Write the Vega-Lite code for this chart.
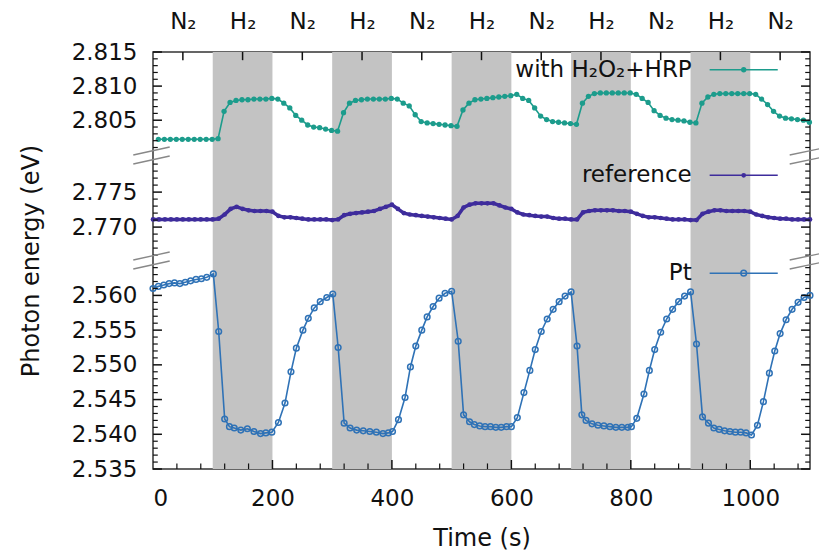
{
  "$schema": "https://vega.github.io/schema/vega-lite/v6.json",
  "width": 657,
  "height": 417,
  "autosize": "none",
  "padding": {"left": 153, "top": 52, "right": 9, "bottom": 82},
  "background": "white",
  "config": {
    "view": {"stroke": "#333", "strokeWidth": 1.5},
    "font": "DejaVu Sans",
    "axis": {"labelFont": "DejaVu Sans", "titleFont": "DejaVu Sans", "labelColor": "#111", "titleColor": "#111", "titleFontWeight": "normal", "grid": false, "domain": false, "zindex": 1}
  },
  "datasets": {
    "bands": [
      {"start": 100, "end": 200}, {"start": 300, "end": 400}, {"start": 500, "end": 600}, {"start": 700, "end": 800}, {"start": 900, "end": 1000}
    ],
    "ymajor": [{"v": 2.535}, {"v": 2.54}, {"v": 2.545}, {"v": 2.55}, {"v": 2.555}, {"v": 2.56}, {"v": 2.77}, {"v": 2.775}, {"v": 2.805}, {"v": 2.81}, {"v": 2.815}],
    "yminor": [
      {"v": 2.536}, {"v": 2.537}, {"v": 2.538}, {"v": 2.539}, {"v": 2.541}, {"v": 2.542}, {"v": 2.543}, {"v": 2.544}, {"v": 2.546}, {"v": 2.547}, {"v": 2.548}, {"v": 2.549},
      {"v": 2.551}, {"v": 2.552}, {"v": 2.553}, {"v": 2.554}, {"v": 2.556}, {"v": 2.557}, {"v": 2.558}, {"v": 2.559}, {"v": 2.561}, {"v": 2.562}, {"v": 2.563}, {"v": 2.564},
      {"v": 2.766}, {"v": 2.767}, {"v": 2.768}, {"v": 2.769}, {"v": 2.771}, {"v": 2.772}, {"v": 2.773}, {"v": 2.774}, {"v": 2.776}, {"v": 2.777}, {"v": 2.778}, {"v": 2.779},
      {"v": 2.801}, {"v": 2.802}, {"v": 2.803}, {"v": 2.804}, {"v": 2.806}, {"v": 2.807}, {"v": 2.808}, {"v": 2.809}, {"v": 2.811}, {"v": 2.812}, {"v": 2.813}, {"v": 2.814}
    ],
    "xmajor": [{"v": 200}, {"v": 400}, {"v": 600}, {"v": 800}, {"v": 1000}],
    "xminor": [
      {"v": 40}, {"v": 80}, {"v": 120}, {"v": 160}, {"v": 240}, {"v": 280}, {"v": 320}, {"v": 360}, {"v": 440}, {"v": 480}, {"v": 520}, {"v": 560},
      {"v": 640}, {"v": 680}, {"v": 720}, {"v": 760}, {"v": 840}, {"v": 880}, {"v": 920}, {"v": 960}, {"v": 1040}, {"v": 1080}
    ],
    "xtop": [{"v": 50}, {"v": 150}, {"v": 250}, {"v": 350}, {"v": 450}, {"v": 550}, {"v": 650}, {"v": 750}, {"v": 850}, {"v": 950}, {"v": 1050}],
    "hrp": [
      {"t": 9, "E": 2.8022}, {"t": 19, "E": 2.8022}, {"t": 29, "E": 2.8022}, {"t": 39, "E": 2.8022}, {"t": 49, "E": 2.8022}, {"t": 59, "E": 2.8022}, {"t": 69, "E": 2.8022}, {"t": 79, "E": 2.8022}, {"t": 89, "E": 2.8022}, {"t": 99, "E": 2.8022}, {"t": 109, "E": 2.8023},
      {"t": 119, "E": 2.8063}, {"t": 129, "E": 2.8076}, {"t": 139, "E": 2.8079}, {"t": 149, "E": 2.808}, {"t": 159, "E": 2.808}, {"t": 169, "E": 2.8081}, {"t": 179, "E": 2.8081}, {"t": 189, "E": 2.8081}, {"t": 199, "E": 2.8082}, {"t": 209, "E": 2.8081},
      {"t": 219, "E": 2.8075}, {"t": 229, "E": 2.8068}, {"t": 239, "E": 2.8057}, {"t": 249, "E": 2.805}, {"t": 259, "E": 2.8043}, {"t": 269, "E": 2.804}, {"t": 279, "E": 2.8039}, {"t": 289, "E": 2.8037}, {"t": 299, "E": 2.8035}, {"t": 309, "E": 2.8034},
      {"t": 319, "E": 2.8061}, {"t": 329, "E": 2.8075}, {"t": 339, "E": 2.8079}, {"t": 349, "E": 2.808}, {"t": 359, "E": 2.8081}, {"t": 369, "E": 2.8081}, {"t": 379, "E": 2.8081}, {"t": 389, "E": 2.8081}, {"t": 399, "E": 2.8082}, {"t": 409, "E": 2.8081},
      {"t": 419, "E": 2.8075}, {"t": 429, "E": 2.8071}, {"t": 439, "E": 2.8058}, {"t": 449, "E": 2.8048}, {"t": 459, "E": 2.8046}, {"t": 469, "E": 2.8045}, {"t": 479, "E": 2.8044}, {"t": 489, "E": 2.8043}, {"t": 499, "E": 2.8042}, {"t": 509, "E": 2.8041},
      {"t": 519, "E": 2.8065}, {"t": 529, "E": 2.8075}, {"t": 539, "E": 2.808}, {"t": 549, "E": 2.8081}, {"t": 559, "E": 2.8082}, {"t": 569, "E": 2.8083}, {"t": 579, "E": 2.8084}, {"t": 589, "E": 2.8085}, {"t": 599, "E": 2.8086}, {"t": 609, "E": 2.8088},
      {"t": 619, "E": 2.8082}, {"t": 629, "E": 2.8079}, {"t": 639, "E": 2.8068}, {"t": 649, "E": 2.8056}, {"t": 659, "E": 2.8051}, {"t": 669, "E": 2.8048}, {"t": 679, "E": 2.8047}, {"t": 689, "E": 2.8046}, {"t": 699, "E": 2.8045}, {"t": 709, "E": 2.8044},
      {"t": 719, "E": 2.8075}, {"t": 729, "E": 2.8085}, {"t": 739, "E": 2.8089}, {"t": 749, "E": 2.809}, {"t": 759, "E": 2.809}, {"t": 769, "E": 2.809}, {"t": 779, "E": 2.809}, {"t": 789, "E": 2.809}, {"t": 799, "E": 2.809}, {"t": 809, "E": 2.8088},
      {"t": 819, "E": 2.8082}, {"t": 829, "E": 2.8076}, {"t": 839, "E": 2.8064}, {"t": 849, "E": 2.8057}, {"t": 859, "E": 2.8053}, {"t": 869, "E": 2.8051}, {"t": 879, "E": 2.805}, {"t": 889, "E": 2.8049}, {"t": 899, "E": 2.8047}, {"t": 909, "E": 2.8046},
      {"t": 919, "E": 2.8075}, {"t": 929, "E": 2.8084}, {"t": 939, "E": 2.8088}, {"t": 949, "E": 2.8089}, {"t": 959, "E": 2.8089}, {"t": 969, "E": 2.8089}, {"t": 979, "E": 2.8089}, {"t": 989, "E": 2.8089}, {"t": 999, "E": 2.8089}, {"t": 1009, "E": 2.8088},
      {"t": 1019, "E": 2.8081}, {"t": 1029, "E": 2.8073}, {"t": 1039, "E": 2.8063}, {"t": 1049, "E": 2.8056}, {"t": 1059, "E": 2.8053}, {"t": 1069, "E": 2.8052}, {"t": 1079, "E": 2.8051}, {"t": 1089, "E": 2.805}, {"t": 1099, "E": 2.8047}
    ],
    "ref": [
      {"t": 0, "E": 2.7711}, {"t": 10, "E": 2.7711}, {"t": 20, "E": 2.7711}, {"t": 30, "E": 2.7711}, {"t": 40, "E": 2.7711}, {"t": 50, "E": 2.7711}, {"t": 60, "E": 2.7711}, {"t": 70, "E": 2.7711}, {"t": 80, "E": 2.7711}, {"t": 90, "E": 2.7711}, {"t": 100, "E": 2.7711}, {"t": 110, "E": 2.7712},
      {"t": 120, "E": 2.7718}, {"t": 130, "E": 2.7726}, {"t": 140, "E": 2.7729}, {"t": 150, "E": 2.7726}, {"t": 160, "E": 2.7724}, {"t": 170, "E": 2.7723}, {"t": 180, "E": 2.7723}, {"t": 190, "E": 2.7723}, {"t": 200, "E": 2.7722},
      {"t": 210, "E": 2.7716}, {"t": 220, "E": 2.7714}, {"t": 230, "E": 2.7714}, {"t": 240, "E": 2.7713}, {"t": 250, "E": 2.7712}, {"t": 260, "E": 2.7711}, {"t": 270, "E": 2.7711}, {"t": 280, "E": 2.7711}, {"t": 290, "E": 2.7711}, {"t": 300, "E": 2.771},
      {"t": 310, "E": 2.7711}, {"t": 320, "E": 2.7717}, {"t": 330, "E": 2.7719}, {"t": 340, "E": 2.772}, {"t": 350, "E": 2.7721}, {"t": 360, "E": 2.7722}, {"t": 370, "E": 2.7723}, {"t": 380, "E": 2.7726}, {"t": 390, "E": 2.7729}, {"t": 400, "E": 2.7732},
      {"t": 410, "E": 2.7726}, {"t": 420, "E": 2.772}, {"t": 430, "E": 2.7718}, {"t": 440, "E": 2.7717}, {"t": 450, "E": 2.7716}, {"t": 460, "E": 2.7715}, {"t": 470, "E": 2.7714}, {"t": 480, "E": 2.7713}, {"t": 490, "E": 2.7712}, {"t": 500, "E": 2.7711},
      {"t": 510, "E": 2.7716}, {"t": 520, "E": 2.7728}, {"t": 530, "E": 2.7732}, {"t": 540, "E": 2.7734}, {"t": 550, "E": 2.7734}, {"t": 560, "E": 2.7734}, {"t": 570, "E": 2.7734}, {"t": 580, "E": 2.7731}, {"t": 590, "E": 2.7728}, {"t": 600, "E": 2.7726},
      {"t": 610, "E": 2.7721}, {"t": 620, "E": 2.7718}, {"t": 630, "E": 2.7717}, {"t": 640, "E": 2.7716}, {"t": 650, "E": 2.7715}, {"t": 660, "E": 2.7715}, {"t": 670, "E": 2.7713}, {"t": 680, "E": 2.7712}, {"t": 690, "E": 2.7712}, {"t": 700, "E": 2.7711},
      {"t": 710, "E": 2.7711}, {"t": 720, "E": 2.7721}, {"t": 730, "E": 2.7723}, {"t": 740, "E": 2.7724}, {"t": 750, "E": 2.7724}, {"t": 760, "E": 2.7724}, {"t": 770, "E": 2.7724}, {"t": 780, "E": 2.7723}, {"t": 790, "E": 2.7723}, {"t": 800, "E": 2.7722},
      {"t": 810, "E": 2.7719}, {"t": 820, "E": 2.7716}, {"t": 830, "E": 2.7714}, {"t": 840, "E": 2.7714}, {"t": 850, "E": 2.7713}, {"t": 860, "E": 2.7712}, {"t": 870, "E": 2.7711}, {"t": 880, "E": 2.7711}, {"t": 890, "E": 2.7711}, {"t": 900, "E": 2.771},
      {"t": 910, "E": 2.771}, {"t": 920, "E": 2.7719}, {"t": 930, "E": 2.7722}, {"t": 940, "E": 2.7724}, {"t": 950, "E": 2.7724}, {"t": 960, "E": 2.7723}, {"t": 970, "E": 2.7723}, {"t": 980, "E": 2.7723}, {"t": 990, "E": 2.7723}, {"t": 1000, "E": 2.7722},
      {"t": 1010, "E": 2.7718}, {"t": 1020, "E": 2.7716}, {"t": 1030, "E": 2.7714}, {"t": 1040, "E": 2.7713}, {"t": 1050, "E": 2.7712}, {"t": 1060, "E": 2.7712}, {"t": 1070, "E": 2.7711}, {"t": 1080, "E": 2.7711}, {"t": 1090, "E": 2.7711}, {"t": 1100, "E": 2.7711}
    ],
    "pt": [
      {"t": 0, "E": 2.561}, {"t": 9, "E": 2.5613}, {"t": 18, "E": 2.5615}, {"t": 27, "E": 2.5617}, {"t": 36, "E": 2.5618}, {"t": 45, "E": 2.5617}, {"t": 54, "E": 2.5619}, {"t": 63, "E": 2.5621}, {"t": 72, "E": 2.5623}, {"t": 81, "E": 2.5624}, {"t": 90, "E": 2.5626}, {"t": 101, "E": 2.5631},
      {"t": 110, "E": 2.5548}, {"t": 120, "E": 2.5422}, {"t": 128, "E": 2.5411}, {"t": 136, "E": 2.5409}, {"t": 147, "E": 2.5406}, {"t": 158, "E": 2.5408}, {"t": 169, "E": 2.5404}, {"t": 180, "E": 2.5401}, {"t": 189, "E": 2.5402}, {"t": 199, "E": 2.5403},
      {"t": 210, "E": 2.5417}, {"t": 221, "E": 2.5445}, {"t": 231, "E": 2.549}, {"t": 240, "E": 2.5524}, {"t": 251, "E": 2.555}, {"t": 260, "E": 2.5567}, {"t": 270, "E": 2.5582}, {"t": 280, "E": 2.5591}, {"t": 291, "E": 2.5597}, {"t": 301, "E": 2.5602},
      {"t": 310, "E": 2.5525}, {"t": 320, "E": 2.5416}, {"t": 330, "E": 2.5409}, {"t": 341, "E": 2.5406}, {"t": 352, "E": 2.5405}, {"t": 363, "E": 2.5404}, {"t": 374, "E": 2.5403}, {"t": 385, "E": 2.5401}, {"t": 394, "E": 2.5402}, {"t": 401, "E": 2.5404},
      {"t": 411, "E": 2.5421}, {"t": 422, "E": 2.5453}, {"t": 431, "E": 2.5497}, {"t": 440, "E": 2.5527}, {"t": 450, "E": 2.555}, {"t": 459, "E": 2.5569}, {"t": 469, "E": 2.5584}, {"t": 479, "E": 2.5596}, {"t": 489, "E": 2.5603}, {"t": 500, "E": 2.5606},
      {"t": 511, "E": 2.5534}, {"t": 520, "E": 2.5428}, {"t": 530, "E": 2.5418}, {"t": 538, "E": 2.5414}, {"t": 547, "E": 2.5412}, {"t": 556, "E": 2.5411}, {"t": 565, "E": 2.5411}, {"t": 574, "E": 2.541}, {"t": 583, "E": 2.541}, {"t": 592, "E": 2.5411}, {"t": 600, "E": 2.5411},
      {"t": 610, "E": 2.5424}, {"t": 621, "E": 2.546}, {"t": 631, "E": 2.5492}, {"t": 640, "E": 2.5522}, {"t": 650, "E": 2.5548}, {"t": 660, "E": 2.5566}, {"t": 670, "E": 2.558}, {"t": 680, "E": 2.5591}, {"t": 690, "E": 2.5599}, {"t": 700, "E": 2.5605},
      {"t": 710, "E": 2.5527}, {"t": 718, "E": 2.5428}, {"t": 725, "E": 2.542}, {"t": 735, "E": 2.5415}, {"t": 745, "E": 2.5413}, {"t": 755, "E": 2.5412}, {"t": 765, "E": 2.5411}, {"t": 775, "E": 2.541}, {"t": 785, "E": 2.541}, {"t": 795, "E": 2.541}, {"t": 801, "E": 2.5411},
      {"t": 810, "E": 2.5423}, {"t": 822, "E": 2.5458}, {"t": 831, "E": 2.5492}, {"t": 840, "E": 2.5522}, {"t": 850, "E": 2.5547}, {"t": 860, "E": 2.5566}, {"t": 870, "E": 2.558}, {"t": 880, "E": 2.5591}, {"t": 890, "E": 2.5599}, {"t": 900, "E": 2.5605},
      {"t": 910, "E": 2.553}, {"t": 920, "E": 2.5425}, {"t": 930, "E": 2.5416}, {"t": 939, "E": 2.5409}, {"t": 948, "E": 2.5407}, {"t": 957, "E": 2.5405}, {"t": 966, "E": 2.5404}, {"t": 975, "E": 2.5403}, {"t": 984, "E": 2.5403}, {"t": 993, "E": 2.5402}, {"t": 1002, "E": 2.5399},
      {"t": 1012, "E": 2.5413}, {"t": 1022, "E": 2.5447}, {"t": 1032, "E": 2.5488}, {"t": 1041, "E": 2.552}, {"t": 1050, "E": 2.5545}, {"t": 1060, "E": 2.5565}, {"t": 1070, "E": 2.558}, {"t": 1080, "E": 2.559}, {"t": 1090, "E": 2.5597}, {"t": 1100, "E": 2.56}
    ]
  },
  "layer": [
    {
      "data": {"name": "bands"},
      "mark": {"type": "rect", "color": "#c3c3c3"},
      "encoding": {
        "x": {"field": "start", "type": "quantitative", "scale": {"domain": [0, 1100], "nice": false, "zero": false}, "axis": null},
        "x2": {"field": "end"}
      }
    },
    {
      "data": {"name": "pt"},
      "mark": {"type": "line", "color": "#2f72b6", "strokeWidth": 1.6, "point": {"filled": false, "size": 32, "strokeWidth": 1.5, "color": "#2f72b6"}},
      "encoding": {
        "x": {"field": "t", "type": "quantitative", "scale": {"domain": [0, 1100], "nice": false, "zero": false}, "axis": null},
        "y": {"field": "E", "type": "quantitative", "scale": {"domain": [2.535, 2.5651, 2.7653, 2.7803, 2.7999, 2.815], "range": [417, 208, 208, 103, 103, 0], "nice": false, "zero": false}, "axis": null}
      }
    },
    {
      "data": {"name": "ref"},
      "mark": {"type": "line", "color": "#3e2c9c", "strokeWidth": 3.5, "point": {"filled": true, "size": 22, "color": "#3e2c9c"}},
      "encoding": {
        "x": {"field": "t", "type": "quantitative", "scale": {"domain": [0, 1100], "nice": false, "zero": false},
          "axis": {"orient": "top", "values": [50, 150, 250, 350, 450, 550, 650, 750, 850, 950, 1050], "labelExpr": "round((datum.value - 50) / 100) % 2 == 0 ? 'N₂' : 'H₂'", "ticks": false, "tickSize": 0, "labelFontSize": 23, "labelPadding": 19, "title": null}},
        "y": {"field": "E", "type": "quantitative", "scale": {"domain": [2.535, 2.5651, 2.7653, 2.7803, 2.7999, 2.815], "range": [417, 208, 208, 103, 103, 0], "nice": false, "zero": false}, "axis": null}
      }
    },
    {
      "data": {"name": "hrp"},
      "mark": {"type": "line", "color": "#1c9c8c", "strokeWidth": 1.6, "point": {"filled": true, "size": 28, "color": "#1c9c8c"}},
      "encoding": {
        "x": {"field": "t", "type": "quantitative", "scale": {"domain": [0, 1100], "nice": false, "zero": false},
          "axis": {"orient": "bottom", "values": [0, 200, 400, 600, 800, 1000], "format": "d", "ticks": false, "tickSize": 0, "labelFontSize": 23, "labelPadding": 18, "title": "Time (s)", "titleFontSize": 24, "titlePadding": 16}},
        "y": {"field": "E", "type": "quantitative", "scale": {"domain": [2.535, 2.5651, 2.7653, 2.7803, 2.7999, 2.815], "range": [417, 208, 208, 103, 103, 0], "nice": false, "zero": false},
          "axis": {"orient": "left", "ticks": false, "tickSize": 0, "labelFontSize": 23, "labelPadding": 16, "title": "Photon energy (eV)", "titleFontSize": 24, "titlePadding": 28,
            "values": [2.535, 2.54, 2.545, 2.55, 2.555, 2.56, 2.77, 2.775, 2.805, 2.81, 2.815], "format": ".3f"}}
      }
    },
    {
      "data": {"name": "ymajor"},
      "mark": {"type": "rule", "color": "#111", "strokeWidth": 1.5},
      "encoding": {"x": {"datum": 0, "type": "quantitative", "axis": null}, "x2": {"datum": 15}, "y": {"field": "v", "type": "quantitative", "axis": null}}
    },
    {
      "data": {"name": "ymajor"},
      "mark": {"type": "rule", "color": "#111", "strokeWidth": 1.5},
      "encoding": {"x": {"datum": 1085, "type": "quantitative", "axis": null}, "x2": {"datum": 1100}, "y": {"field": "v", "type": "quantitative", "axis": null}}
    },
    {
      "data": {"name": "yminor"},
      "mark": {"type": "rule", "color": "#111", "strokeWidth": 1.2},
      "encoding": {"x": {"datum": 0, "type": "quantitative", "axis": null}, "x2": {"datum": 8}, "y": {"field": "v", "type": "quantitative", "axis": null}}
    },
    {
      "data": {"name": "yminor"},
      "mark": {"type": "rule", "color": "#111", "strokeWidth": 1.2},
      "encoding": {"x": {"datum": 1092, "type": "quantitative", "axis": null}, "x2": {"datum": 1100}, "y": {"field": "v", "type": "quantitative", "axis": null}}
    },
    {
      "data": {"name": "xmajor"},
      "mark": {"type": "rule", "color": "#111", "strokeWidth": 1.5},
      "encoding": {"x": {"field": "v", "type": "quantitative", "axis": null}, "y": {"datum": 2.535, "type": "quantitative", "axis": null}, "y2": {"datum": 2.5363}}
    },
    {
      "data": {"name": "xminor"},
      "mark": {"type": "rule", "color": "#111", "strokeWidth": 1.2},
      "encoding": {"x": {"field": "v", "type": "quantitative", "axis": null}, "y": {"datum": 2.535, "type": "quantitative", "axis": null}, "y2": {"datum": 2.5358}}
    },
    {
      "data": {"name": "xtop"},
      "mark": {"type": "rule", "color": "#111", "strokeWidth": 1.5},
      "encoding": {"x": {"field": "v", "type": "quantitative", "axis": null}, "y": {"datum": 2.815, "type": "quantitative", "axis": null}, "y2": {"datum": 2.8138}}
    },
    {
      "data": {"values": [{}]},
      "mark": {"type": "text", "align": "right", "baseline": "middle", "fontSize": 23, "color": "#111"},
      "encoding": {"x": {"datum": 902, "type": "quantitative", "axis": null}, "y": {"datum": 2.8124, "type": "quantitative", "axis": null}, "text": {"value": "with H₂O₂+HRP"}}
    },
    {
      "data": {"values": [{}]},
      "mark": {"type": "text", "align": "right", "baseline": "middle", "fontSize": 23, "color": "#111"},
      "encoding": {"x": {"datum": 902, "type": "quantitative", "axis": null}, "y": {"datum": 2.7774, "type": "quantitative", "axis": null}, "text": {"value": "reference"}}
    },
    {
      "data": {"values": [{}]},
      "mark": {"type": "text", "align": "right", "baseline": "middle", "fontSize": 23, "color": "#111"},
      "encoding": {"x": {"datum": 902, "type": "quantitative", "axis": null}, "y": {"datum": 2.5632, "type": "quantitative", "axis": null}, "text": {"value": "Pt"}}
    },
    {
      "data": {"values": [{}]},
      "mark": {"type": "rule", "color": "#1c9c8c", "strokeWidth": 1.6},
      "encoding": {"x": {"datum": 932, "type": "quantitative", "axis": null}, "x2": {"datum": 1046}, "y": {"datum": 2.8124, "type": "quantitative", "axis": null}}
    },
    {
      "data": {"values": [{}]},
      "mark": {"type": "point", "filled": true, "size": 28, "color": "#1c9c8c", "opacity": 1},
      "encoding": {"x": {"datum": 989, "type": "quantitative", "axis": null}, "y": {"datum": 2.8124, "type": "quantitative", "axis": null}}
    },
    {
      "data": {"values": [{}]},
      "mark": {"type": "rule", "color": "#3e2c9c", "strokeWidth": 1.6},
      "encoding": {"x": {"datum": 932, "type": "quantitative", "axis": null}, "x2": {"datum": 1046}, "y": {"datum": 2.7774, "type": "quantitative", "axis": null}}
    },
    {
      "data": {"values": [{}]},
      "mark": {"type": "point", "filled": true, "size": 22, "color": "#3e2c9c", "opacity": 1},
      "encoding": {"x": {"datum": 989, "type": "quantitative", "axis": null}, "y": {"datum": 2.7774, "type": "quantitative", "axis": null}}
    },
    {
      "data": {"values": [{}]},
      "mark": {"type": "rule", "color": "#2f72b6", "strokeWidth": 1.6},
      "encoding": {"x": {"datum": 932, "type": "quantitative", "axis": null}, "x2": {"datum": 1046}, "y": {"datum": 2.5632, "type": "quantitative", "axis": null}}
    },
    {
      "data": {"values": [{}]},
      "mark": {"type": "point", "filled": false, "size": 32, "strokeWidth": 1.5, "color": "#2f72b6", "opacity": 1},
      "encoding": {"x": {"datum": 989, "type": "quantitative", "axis": null}, "y": {"datum": 2.5632, "type": "quantitative", "axis": null}}
    },
    {
      "data": {"values": [{"y": 2.79}, {"y": 2.7}]},
      "mark": {"type": "rule", "color": "#888", "strokeWidth": 1.3, "yOffset": 0, "y2Offset": -8},
      "encoding": {"x": {"datum": -33, "type": "quantitative", "axis": null}, "x2": {"datum": 28}, "y": {"field": "y", "type": "quantitative", "axis": null}, "y2": {"field": "y"}}
    },
    {
      "data": {"values": [{"y": 2.79}, {"y": 2.7}]},
      "mark": {"type": "rule", "color": "#888", "strokeWidth": 1.3, "yOffset": 9, "y2Offset": 1},
      "encoding": {"x": {"datum": -33, "type": "quantitative", "axis": null}, "x2": {"datum": 28}, "y": {"field": "y", "type": "quantitative", "axis": null}, "y2": {"field": "y"}}
    },
    {
      "data": {"values": [{"y": 2.79}, {"y": 2.7}]},
      "mark": {"type": "rule", "color": "#888", "strokeWidth": 1.3, "yOffset": 0, "y2Offset": -8},
      "encoding": {"x": {"datum": 1066, "type": "quantitative", "axis": null}, "x2": {"datum": 1130}, "y": {"field": "y", "type": "quantitative", "axis": null}, "y2": {"field": "y"}}
    },
    {
      "data": {"values": [{"y": 2.79}, {"y": 2.7}]},
      "mark": {"type": "rule", "color": "#888", "strokeWidth": 1.3, "yOffset": 9, "y2Offset": 1},
      "encoding": {"x": {"datum": 1066, "type": "quantitative", "axis": null}, "x2": {"datum": 1130}, "y": {"field": "y", "type": "quantitative", "axis": null}, "y2": {"field": "y"}}
    }
  ],
  "resolve": {"axis": {"x": "independent", "y": "independent"}}
}
